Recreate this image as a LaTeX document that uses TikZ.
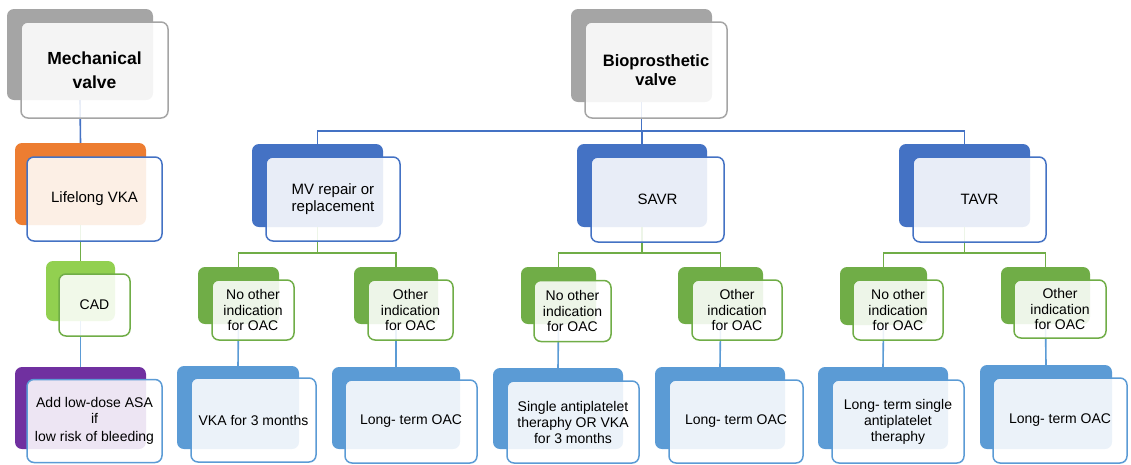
\documentclass[tikz,border=0pt]{standalone}
\usepackage{fontspec}
\setmainfont{Liberation Sans}
\definecolor{cardgrey}{HTML}{A5A5A5}
\definecolor{cardorange}{HTML}{ED7D31}
\definecolor{cardblue}{HTML}{4472C4}
\definecolor{cardgreen}{HTML}{70AD47}
\definecolor{cardlime}{HTML}{92D050}
\definecolor{cardpurple}{HTML}{7030A0}
\definecolor{cardsky}{HTML}{5B9BD5}

\begin{document}
\begin{tikzpicture}[x=1pt, y=-1pt,
    backcard/.style={rectangle, rounded corners=7pt, inner sep=0pt, fill=#1},
    frontcard/.style={rectangle, rounded corners=7pt, inner sep=0pt, draw=#1, line width=1.5pt,
      fill=white, fill opacity=0.88, text opacity=1, align=center,
      font=\fontsize{14}{15.5}\selectfont},
    link/.style={draw=#1, line width=1.6pt},
    bigtext/.style={font=\fontsize{15}{17}\selectfont}]
  \useasboundingbox (0,0) rectangle (1131,464);
  % mechanical valve column
  \node[backcard=cardgrey, minimum width=146pt, minimum height=91pt] (mechB) at (80,54.5) {};
  \node[backcard=cardorange, minimum width=131pt, minimum height=82pt] (lifeB) at (80.5,184) {};
  \node[backcard=cardlime, minimum width=69pt, minimum height=60pt] (cadB) at (80.5,291) {};
  \node[backcard=cardpurple, minimum width=131pt, minimum height=82pt] (asaB) at (80.5,408) {};
  % bioprosthetic valve tree
  \node[backcard=cardgrey, minimum width=141pt, minimum height=93pt] (bioB) at (641.5,55.5) {};
  \node[backcard=cardblue, minimum width=131pt, minimum height=83pt] (mvB) at (317.5,185.5) {};
  \node[backcard=cardblue, minimum width=130pt, minimum height=83pt] (savrB) at (642,185.5) {};
  \node[backcard=cardblue, minimum width=131pt, minimum height=83pt] (tavrB) at (964.5,185.5) {};
  \node[backcard=cardgreen, minimum width=81pt, minimum height=57pt] (mvnoB) at (238.5,295.5) {};
  \node[backcard=cardgreen, minimum width=84pt, minimum height=57pt] (mvyesB) at (396,295.5) {};
  \node[backcard=cardgreen, minimum width=75pt, minimum height=57pt] (savrnoB) at (558.5,295.5) {};
  \node[backcard=cardgreen, minimum width=85pt, minimum height=57pt] (savryesB) at (720.5,295.5) {};
  \node[backcard=cardgreen, minimum width=87pt, minimum height=58pt] (tavrnoB) at (883.5,296) {};
  \node[backcard=cardgreen, minimum width=89pt, minimum height=57pt] (tavryesB) at (1045.5,295.5) {};
  \node[backcard=cardsky, minimum width=122pt, minimum height=83pt] (vkaB) at (238,407.5) {};
  \node[backcard=cardsky, minimum width=128pt, minimum height=82pt] (mvoacB) at (396,408) {};
  \node[backcard=cardsky, minimum width=130pt, minimum height=81pt] (singleB) at (558,408.5) {};
  \node[backcard=cardsky, minimum width=130pt, minimum height=82pt] (savroacB) at (720,408) {};
  \node[backcard=cardsky, minimum width=130pt, minimum height=82pt] (ltsingleB) at (883,408) {};
  \node[backcard=cardsky, minimum width=132pt, minimum height=84pt] (tavroacB) at (1046,407) {};

  % connectors
  \draw[link=cardblue] (mechB.south) -- (lifeB.north);
  \draw[link=cardgreen] (lifeB.south) -- (cadB.north);
  \draw[link=cardsky] (cadB.south) -- (asaB.north);
  \draw[link=cardblue] (bioB.south) -- ++(0,29) coordinate (biobus);
  \foreach \n in {mvB,savrB,tavrB}
    \draw[link=cardblue] (biobus) -| (\n.north);
  \draw[link=cardgreen] (mvB.south) -- ++(0,26) coordinate (mvbus);
  \draw[link=cardgreen] (savrB.south) -- ++(0,26) coordinate (savrbus);
  \draw[link=cardgreen] (tavrB.south) -- ++(0,26) coordinate (tavrbus);
  \foreach \b/\n in {mvbus/mvnoB, mvbus/mvyesB, savrbus/savrnoB, savrbus/savryesB, tavrbus/tavrnoB, tavrbus/tavryesB}
    \draw[link=cardgreen] (\b) -| (\n.north);
  \foreach \a/\n in {mvnoB/vkaB, mvyesB/mvoacB, savrnoB/singleB, savryesB/savroacB, tavrnoB/ltsingleB, tavryesB/tavroacB}
    \draw[link=cardsky] (\a.south) -- (\n.north);

  % front cards
  \node[frontcard=cardgrey, minimum width=147pt, minimum height=96pt, font=\bfseries\fontsize{17.5}{24}\selectfont] (mechF) at (94.5,70) {Mechanical\\valve};
  \node[frontcard=cardblue, minimum width=135pt, minimum height=84pt, bigtext] (lifeF) at (94.5,199) {Lifelong VKA};
  \node[frontcard=cardgreen, minimum width=71pt, minimum height=62pt] (cadF) at (94.5,305) {CAD};
  \node[frontcard=cardsky, minimum width=135pt, minimum height=83pt] (asaF) at (94.5,421) {Add low-dose ASA\\if\\[3pt]low risk of bleeding};
  \node[frontcard=cardgrey, minimum width=142pt, minimum height=96pt, font=\bfseries\fontsize{16.5}{19}\selectfont] (bioF) at (656,70) {Bioprosthetic\\valve};
  \node[frontcard=cardblue, minimum width=134pt, minimum height=84pt, bigtext] (mvF) at (333,199) {MV repair or\\replacement};
  \node[frontcard=cardblue, minimum width=133pt, minimum height=85pt, bigtext] (savrF) at (657.5,199.5) {SAVR};
  \node[frontcard=cardblue, minimum width=133pt, minimum height=85pt, bigtext] (tavrF) at (979.5,199.5) {TAVR};
  \node[frontcard=cardgreen, minimum width=82pt, minimum height=60pt] (mvnoF) at (253,310) {No other\\indication\\for OAC};
  \node[frontcard=cardgreen, minimum width=85pt, minimum height=60pt] (mvyesF) at (410.5,310) {Other\\indication\\for OAC};
  \node[frontcard=cardgreen, minimum width=77pt, minimum height=61pt] (savrnoF) at (572.5,311) {No other\\indication\\for OAC};
  \node[frontcard=cardgreen, minimum width=90pt, minimum height=60pt] (savryesF) at (737,310) {Other\\indication\\for OAC};
  \node[frontcard=cardgreen, minimum width=90pt, minimum height=60pt] (tavrnoF) at (898,310) {No other\\indication\\for OAC};
  \node[frontcard=cardgreen, minimum width=92pt, minimum height=58pt] (tavryesF) at (1060,309) {Other\\indication\\for OAC};
  \node[frontcard=cardsky, minimum width=125pt, minimum height=84pt] (vkaF) at (253.5,420) {VKA for 3 months};
  \node[frontcard=cardsky, minimum width=132pt, minimum height=83pt] (mvoacF) at (411,421.5) {Long- term OAC};
  \node[frontcard=cardsky, minimum width=132pt, minimum height=82pt, font=\fontsize{14}{16}\selectfont] (singleF) at (573,422) {Single antiplatelet\\theraphy OR VKA\\for 3 months};
  \node[frontcard=cardsky, minimum width=134pt, minimum height=83pt] (savroacF) at (736,421.5) {Long- term OAC};
  \node[frontcard=cardsky, minimum width=132pt, minimum height=83pt, font=\fontsize{14}{16}\selectfont] (ltsingleF) at (898,421.5) {Long- term single\\antiplatelet\\theraphy};
  \node[frontcard=cardsky, minimum width=134pt, minimum height=85pt] (tavroacF) at (1060,420.5) {Long- term OAC};
\end{tikzpicture}
\end{document}
